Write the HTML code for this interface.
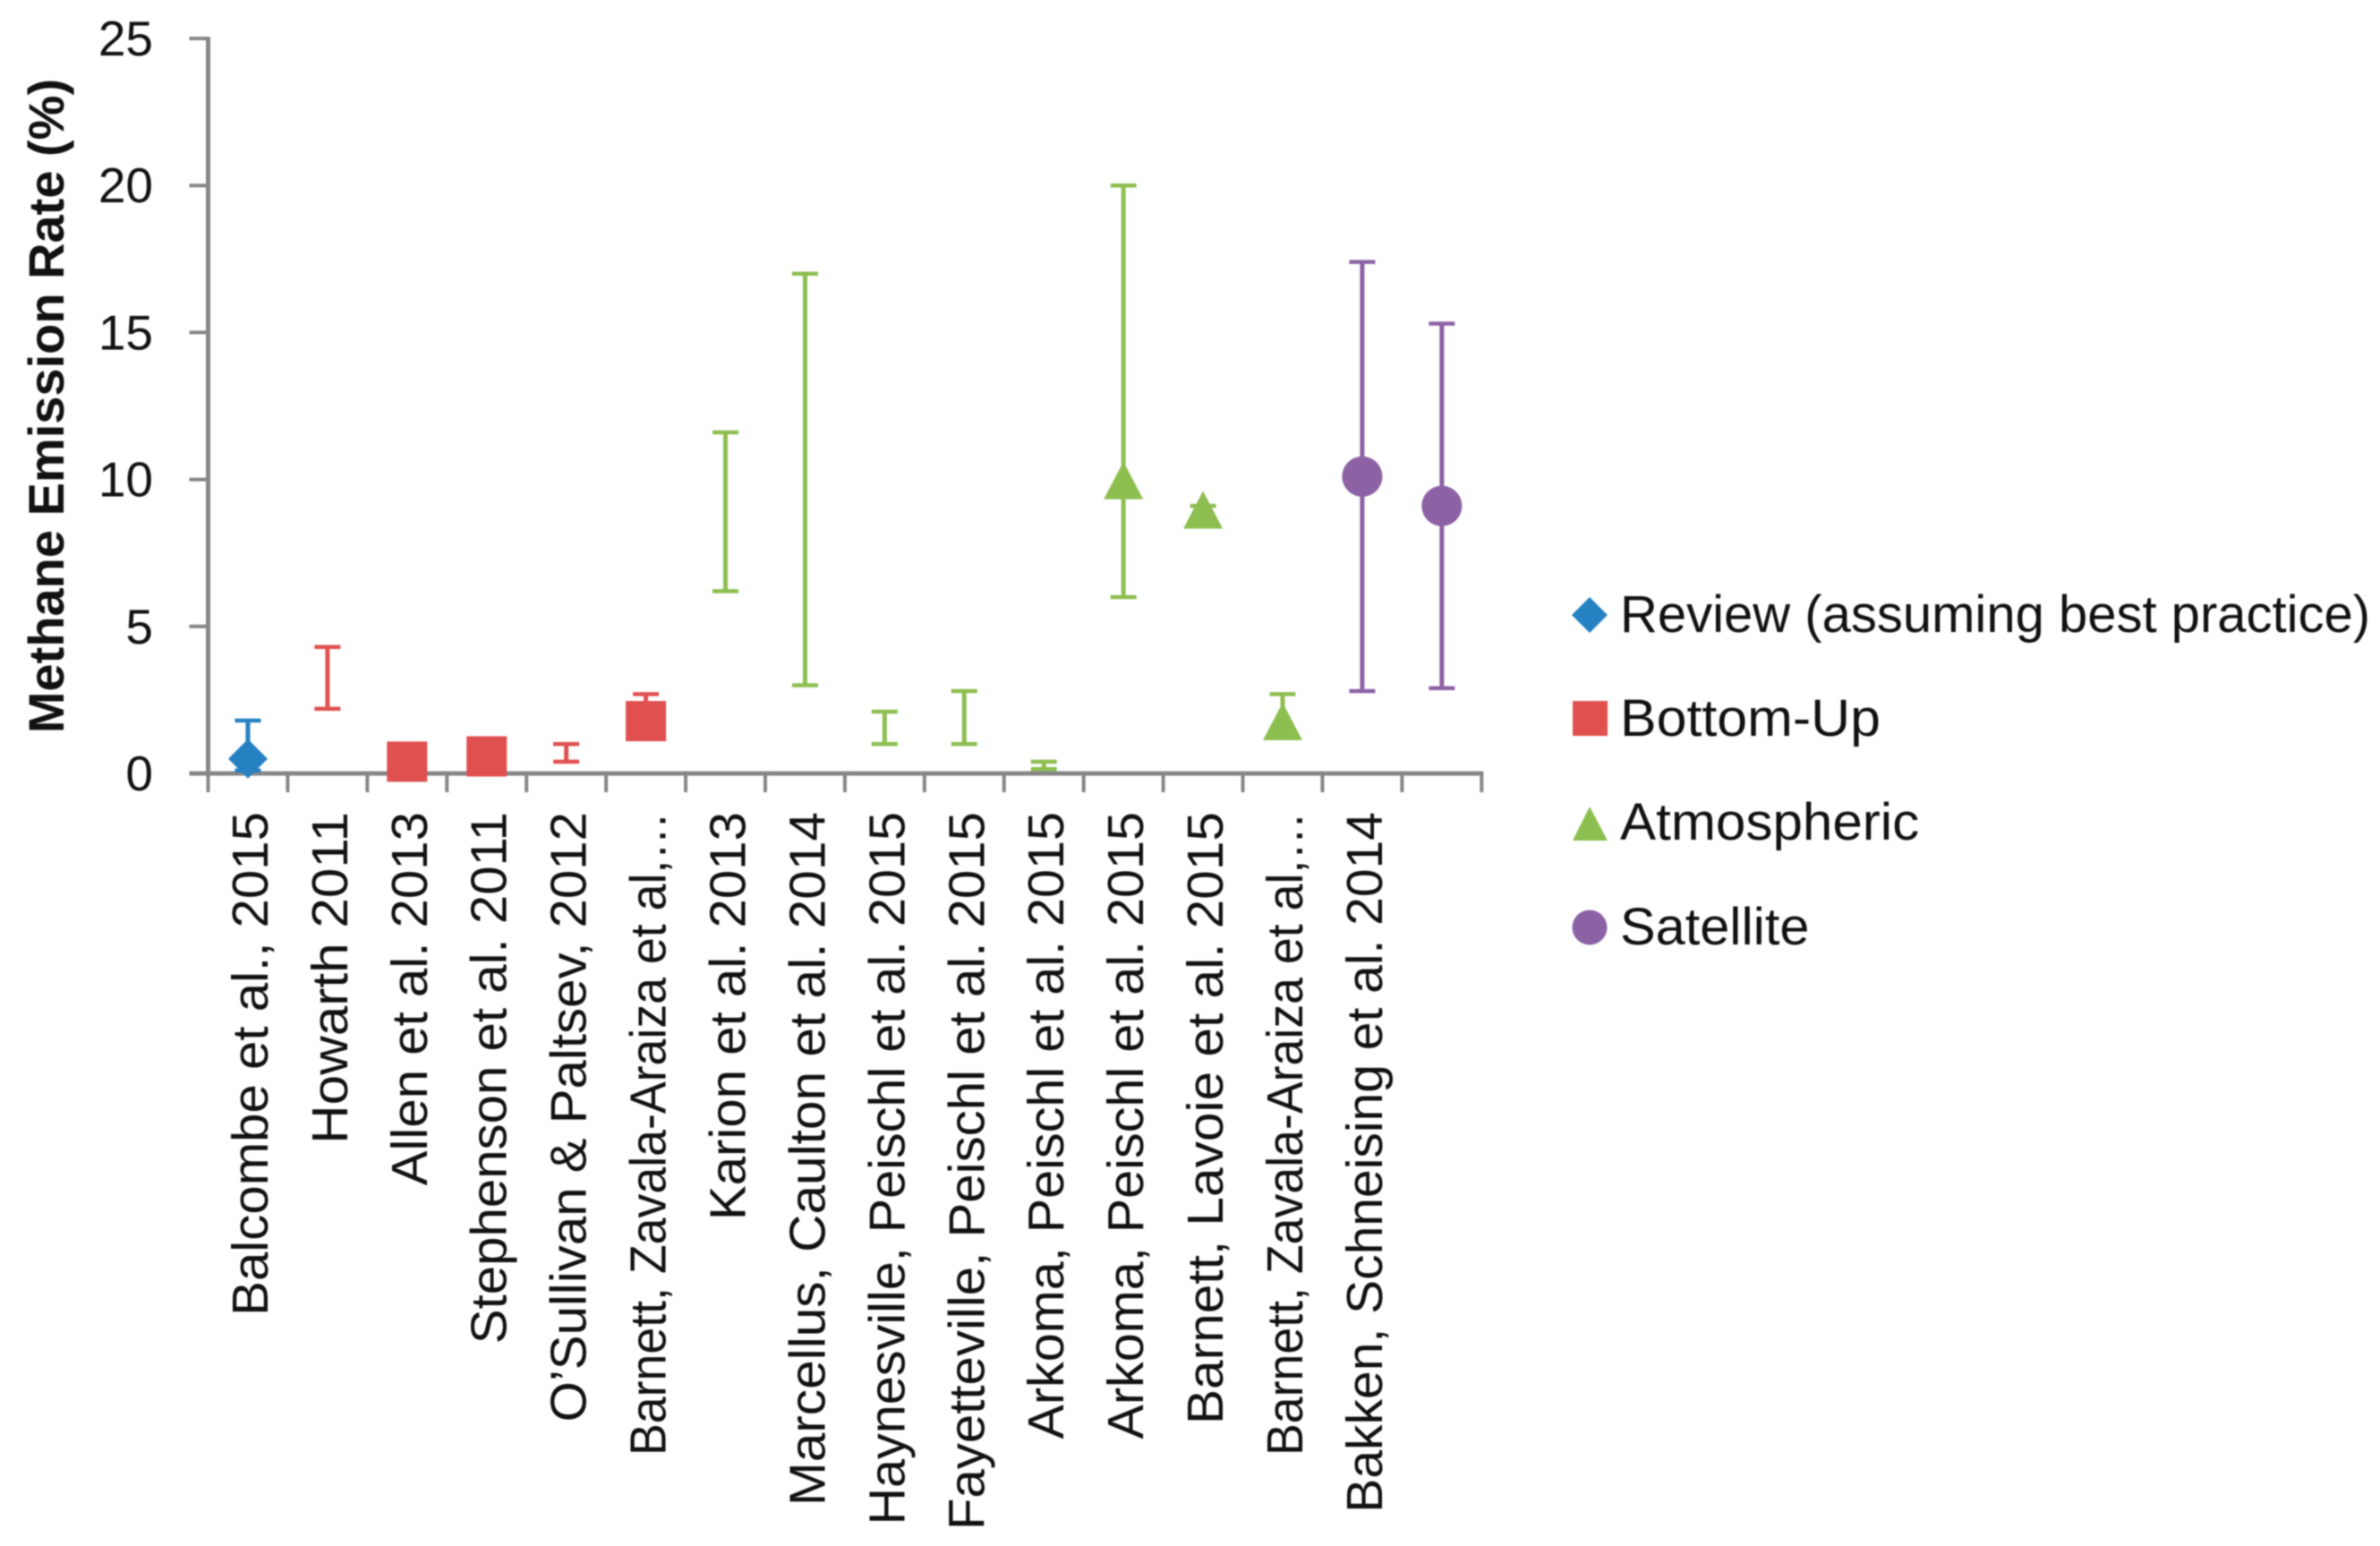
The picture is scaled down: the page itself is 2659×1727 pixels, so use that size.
<!DOCTYPE html>
<html lang="en">
<head>
<meta charset="utf-8">
<title>Methane Emission Rate</title>
<style>
html,body{margin:0;padding:0;background:#fff;}
svg{display:block;filter:blur(0.7px);}
text{font-family:"Liberation Sans",sans-serif;fill:#111;}
</style>
</head>
<body>
<svg id="chart" xmlns="http://www.w3.org/2000/svg" width="2659" height="1727" viewBox="0 0 2659 1727">
<rect x="0" y="0" width="2659" height="1727" fill="#ffffff"/>
<text transform="translate(71,453.5) rotate(-90)" text-anchor="middle" font-size="56" font-weight="700">Methane Emission Rate (%)</text>
<g>
<polygon points="1776,667 1796,687 1776,707 1756,687" fill="#2681c2"/>
<text transform="translate(1810,706)" font-size="58">Review (assuming best practice)</text>
<rect x="1757" y="783" width="39" height="39" fill="#e0504f"/>
<text transform="translate(1810,822) scale(1.05,1)" font-size="58">Bottom-Up</text>
<polygon points="1776,901 1796,939 1757,939" fill="#8dbe50"/>
<text transform="translate(1810,938) scale(1.037,1)" font-size="58">Atmospheric</text>
<circle cx="1776" cy="1036" r="19.5" fill="#8c62a5"/>
<text transform="translate(1810,1055) scale(1.025,1)" font-size="58">Satellite</text>
</g>
</svg>
<script>
const categories = ["Balcombe et al., 2015","Howarth 2011","Allen et al. 2013","Stephenson et al. 2011","O’Sullivan & Paltsev, 2012","Barnett, Zavala-Araiza et al,…","Karion et al. 2013","Marcellus, Caulton et al. 2014","Haynesville, Peischl et al. 2015","Fayetteville, Peischl et al. 2015","Arkoma, Peischl et al. 2015","Arkoma, Peischl et al. 2015","Barnett, Lavoie et al. 2015","Barnett, Zavala-Araiza et al,…","Bakken, Schneising et al. 2014",""];
const yTickLabels = [0,5,10,15,20,25];
const reviewValues = [0.5,null,null,null,null,null,null,null,null,null,null,null,null,null,null,null];
const bottomUpValues = [null,null,0.4,0.58,null,1.78,null,null,null,null,null,null,null,null,null,null];
const atmosphericValues = [null,null,null,null,null,null,null,null,null,null,null,10,9,1.8,null,null];
const satelliteValues = [null,null,null,null,null,null,null,null,null,null,null,null,null,null,10.1,9.1];
const errorLow = [0.1,2.2,null,null,0.4,1.4,6.2,3,1,1,0.15,6,8.7,1.4,2.8,2.9];
const errorHigh = [1.8,4.3,null,null,1.0,2.7,11.6,17,2.1,2.8,0.4,20,9.1,2.7,17.4,15.3];
const errorColors = ["#2681c2","#e0504f","#e0504f","#e0504f","#e0504f","#e0504f","#8dbe50","#8dbe50","#8dbe50","#8dbe50","#8dbe50","#8dbe50","#8dbe50","#8dbe50","#8c62a5","#8c62a5"];

const NS = "http://www.w3.org/2000/svg";
const svg = document.getElementById("chart");
const plot = {left:232.5, right:1655.3, top:43, bottom:864};
const yMax = 25;
function xEdge(i){ return plot.left + i * (plot.right - plot.left) / categories.length; }
function xScale(i){ return xEdge(i + 0.5); }
function yScale(v){ return plot.bottom - v / yMax * (plot.bottom - plot.top); }
function make(tag, attrs, parent){
  const el = document.createElementNS(NS, tag);
  for (const k in attrs) el.setAttribute(k, attrs[k]);
  (parent || svg).appendChild(el);
  return el;
}
function labelFit(text){
  if (text.indexOf("Zavala") >= 0) return 0.942;
  if (text.indexOf("Howarth") >= 0) return 1.058;
  if (text.indexOf("Bakken") >= 0) return 1;
  if (text.indexOf("Haynesville") >= 0 || text.indexOf("Arkoma") >= 0) return 1.01;
  if (text.indexOf("Marcellus") >= 0 || text.indexOf("Lavoie") >= 0) return 1.028;
  return 1.021;
}
const axisColor = "#868686";

const axes = make("g", {});



const yAxis = make("line", {x1:plot.left, x2:plot.left, y1:plot.top-2, y2:plot.bottom+2, stroke:axisColor, "stroke-width":5}, axes);



const xAxis = make("line", {x1:plot.left-21, x2:plot.right+2, y1:plot.bottom, y2:plot.bottom, stroke:axisColor, "stroke-width":5}, axes);



yTickLabels.forEach(function(t){
  const y = yScale(t);
  const tick = make("line", {x1:plot.left-21, x2:plot.left, y1:y, y2:y, stroke:axisColor, "stroke-width":4}, axes);
  
  
  const label = make("text", {x:171, y:y+19, "text-anchor":"end", "font-size":55}, axes);
  label.textContent = t;
  
  
});

for (let i = 0; i <= categories.length; i++) {
  const x = xEdge(i);
  const tick = make("line", {x1:x, x2:x, y1:plot.bottom, y2:plot.bottom+21, stroke:axisColor, "stroke-width":4}, axes);
  
  
}

categories.forEach(function(c, i){
  if (!c) return;
  const label = make("text", {transform:"translate(" + (xScale(i)+22) + ",907) rotate(-90) scale(" + labelFit(c) + ",1)", "text-anchor":"end", "font-size":57}, axes);
  label.textContent = c;
  
  
});

const capHalf = 14.5;
const errorBars = make("g", {});


categories.forEach(function(c, i){
  if (errorLow[i] === null || errorHigh[i] === null) return;
  const x = xScale(i), lo = yScale(errorLow[i]), hi = yScale(errorHigh[i]), col = errorColors[i];
  const stem = make("line", {x1:x, x2:x, y1:lo, y2:hi, stroke:col, "stroke-width":5}, errorBars);
  
  
  const capTop = make("line", {x1:x-capHalf, x2:x+capHalf, y1:hi, y2:hi, stroke:col, "stroke-width":4.5}, errorBars);
  
  
  const capLow = make("line", {x1:x-capHalf, x2:x+capHalf, y1:lo, y2:lo, stroke:col, "stroke-width":4.5}, errorBars);
  
  
});

reviewValues.forEach(function(v, i){
  if (v === null) return;
  const x = xScale(i), y = yScale(v), r = 22;
  const m = make("polygon", {points:[x,y-r,x+r,y,x,y+r,x-r,y].join(" "), fill:"#2681c2"});
  
  
});
bottomUpValues.forEach(function(v, i){
  if (v === null) return;
  const x = xScale(i), y = yScale(v), r = 22.5;
  const m = make("rect", {x:x-r, y:y-r, width:2*r, height:2*r, fill:"#e0504f"});
  
  
});
atmosphericValues.forEach(function(v, i){
  if (v === null) return;
  const x = xScale(i), y = yScale(v);
  const m = make("polygon", {points:[x,y-20,x+22,y+22,x-22,y+22].join(" "), fill:"#8dbe50"});
  
  
});
satelliteValues.forEach(function(v, i){
  if (v === null) return;
  const m = make("circle", {cx:xScale(i), cy:yScale(v), r:22.5, fill:"#8c62a5"});
  
  
});
</script>
</body>
</html>
